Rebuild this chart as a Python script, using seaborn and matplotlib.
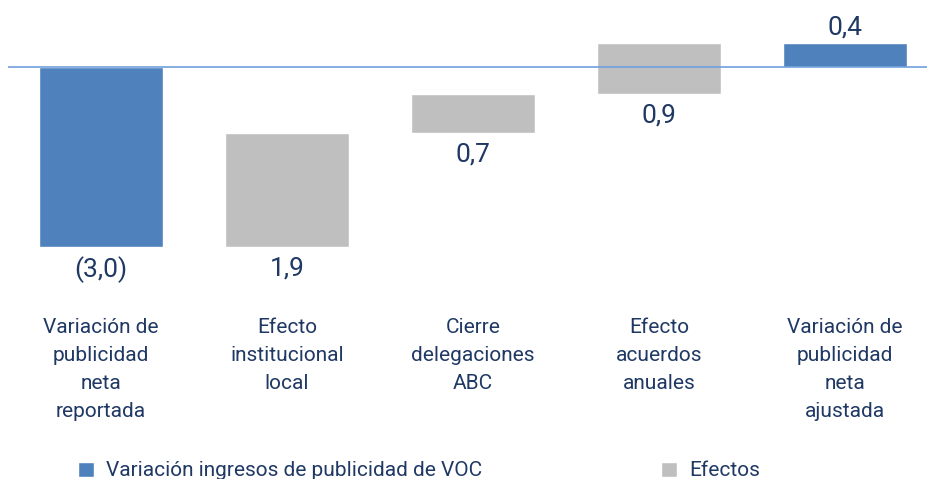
import numpy as np
import pandas as pd
import seaborn as sns
import matplotlib.pyplot as plt
from matplotlib.patches import Patch

# Datos (cascada)
categorias = ["Variación de\npublicidad\nneta\nreportada",
              "Efecto\ninstitucional\nlocal",
              "Cierre\ndelegaciones\nABC",
              "Efecto\nacuerdos\nanuales",
              "Variación de\npublicidad\nneta\najustada"]
variaciones = [-3.0, 1.9, 0.65, 0.85, 0.4]
etiquetas = ["(3,0)", "1,9", "0,7", "0,9", "0,4"]
tipos = ["VOC", "Efectos", "Efectos", "Efectos", "VOC"]
leyenda = {"VOC": "Variación ingresos de publicidad de VOC", "Efectos": "Efectos"}

azul = "#4f81bd"
gris = "#bfbfbf"
texto = "#1f3864"

# Base de cada barra: acumulado para los efectos, cero para los totales
bases = []
acum = 0.0
for v, t in zip(variaciones, tipos):
    if t == "VOC":
        bases.append(0.0)
        if len(bases) == 1:
            acum = v
    else:
        bases.append(acum)
        acum += v

df = pd.DataFrame({"cat": categorias, "delta": variaciones, "base": bases,
                   "tipo": tipos, "etiqueta": etiquetas})

sns.set_style("white")
plt.rcParams["font.family"] = ["Roboto", "DejaVu Sans"]

fig = plt.figure(figsize=(9.28, 4.79), dpi=100)
ax = fig.add_axes([8 / 928, 1 - 312 / 479, 920 / 928, 312 / 479])

for t, col in [("VOC", azul), ("Efectos", gris)]:
    sub = df[df["tipo"] == t]
    sns.barplot(data=sub, x="cat", y="delta", order=categorias, bottom=sub["base"].values,
                color=col, width=0.665, errorbar=None, saturation=1, ax=ax, zorder=2)

ax.axhline(0, color="#6fa0dc", lw=1.2, zorder=3)

# Etiquetas de valor
for i, row in df.iterrows():
    lo = min(row["base"], row["base"] + row["delta"])
    hi = max(row["base"], row["base"] + row["delta"])
    if i == len(df) - 1:
        ax.text(i, hi + 0.06, row["etiqueta"], ha="center", va="bottom", fontsize=19, color=texto)
    else:
        ax.text(i, lo - 0.16, row["etiqueta"], ha="center", va="top", fontsize=19, color=texto)

ax.set_xlim(-0.5, 4.446)
ax.set_ylim(-(312 - 67) / 59.9, 67 / 59.9)
ax.set_xlabel("")
ax.set_ylabel("")
ax.set_yticks([])
ax.tick_params(axis="x", length=0, pad=4)
ax.set_xticks(range(len(categorias)))
ax.set_xticklabels(categorias, fontsize=15, color=texto, linespacing=1.62)
sns.despine(left=True, bottom=True)

handles = [Patch(facecolor=azul), Patch(facecolor=gris)]
fig.legend(handles, [leyenda["VOC"], leyenda["Efectos"]], loc="center left",
           bbox_to_anchor=(78 / 928, 1 - 471 / 479), ncol=2, frameon=False,
           fontsize=15, labelcolor=texto, handlelength=0.75, handleheight=0.75,
           handletextpad=0.6, columnspacing=8.6, borderpad=0, borderaxespad=0)

fig.savefig("out.png", dpi=100)
